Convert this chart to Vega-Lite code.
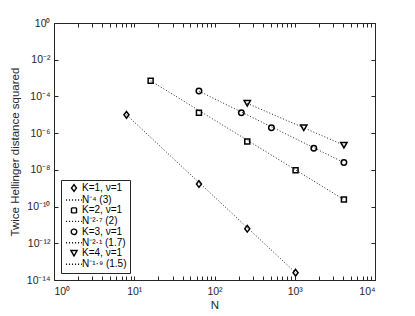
{
  "$schema": "https://vega.github.io/schema/vega-lite/v6.json",
  "width": 321,
  "height": 257,
  "autosize": "none",
  "padding": {"left": 54, "top": 23, "right": 40, "bottom": 36},
  "background": "white",
  "config": {
    "font": "Liberation Sans",
    "view": {"stroke": "#262626", "strokeWidth": 1},
    "axis": {
      "domain": false,
      "grid": false,
      "tickSize": -4,
      "tickColor": "#262626",
      "tickWidth": 1,
      "labelColor": "#262626",
      "labelFontSize": 10.5,
      "titleColor": "#262626",
      "titleFontSize": 11.5,
      "titleFontWeight": "normal"
    },
    "legend": {
      "orient": "bottom-left",
      "offset": 7,
      "title": null,
      "strokeColor": "#262626",
      "fillColor": "white",
      "padding": 3,
      "symbolOffset": 5,
      "symbolStrokeWidth": 1.4,
      "symbolStrokeColor": "black",
      "symbolFillColor": "transparent",
      "labelFontSize": 10,
      "labelColor": "black",
      "labelOffset": 3,
      "rowPadding": -0.6,
      "labelLimit": 200
    }
  },
  "datasets": {
    "pts": [
      {"N": 8, "D": 1.0e-5, "label": "K=1, ν=1"},
      {"N": 64, "D": 1.7e-9, "label": "K=1, ν=1"},
      {"N": 256, "D": 6.2e-12, "label": "K=1, ν=1"},
      {"N": 1024, "D": 2.5e-14, "label": "K=1, ν=1"},
      {"N": 16, "D": 7.1e-4, "label": "K=2, ν=1"},
      {"N": 64, "D": 1.3e-5, "label": "K=2, ν=1"},
      {"N": 256, "D": 3.5e-7, "label": "K=2, ν=1"},
      {"N": 1024, "D": 9.5e-9, "label": "K=2, ν=1"},
      {"N": 4096, "D": 2.4e-10, "label": "K=2, ν=1"},
      {"N": 64, "D": 1.95e-4, "label": "K=3, ν=1"},
      {"N": 216, "D": 1.3e-5, "label": "K=3, ν=1"},
      {"N": 512, "D": 1.95e-6, "label": "K=3, ν=1"},
      {"N": 1728, "D": 1.5e-7, "label": "K=3, ν=1"},
      {"N": 4096, "D": 2.5e-8, "label": "K=3, ν=1"},
      {"N": 256, "D": 4.2e-5, "label": "K=4, ν=1"},
      {"N": 1296, "D": 1.95e-6, "label": "K=4, ν=1"},
      {"N": 4096, "D": 2.2e-7, "label": "K=4, ν=1"}
    ],
    "fits": [
      {"N": 8, "D": 1.0e-5, "label": "N⁻⁴ (3)"},
      {"N": 1024, "D": 2.5e-14, "label": "N⁻⁴ (3)"},
      {"N": 16, "D": 7.1e-4, "label": "N⁻²·⁷ (2)"},
      {"N": 4096, "D": 2.4e-10, "label": "N⁻²·⁷ (2)"},
      {"N": 64, "D": 1.95e-4, "label": "N⁻²·¹ (1.7)"},
      {"N": 4096, "D": 2.5e-8, "label": "N⁻²·¹ (1.7)"},
      {"N": 256, "D": 4.2e-5, "label": "N⁻¹·⁹ (1.5)"},
      {"N": 4096, "D": 2.2e-7, "label": "N⁻¹·⁹ (1.5)"}
    ]
  },
  "layer": [
    {
      "data": {"name": "fits"},
      "mark": {"type": "line", "color": "#222", "strokeWidth": 1},
      "encoding": {
        "x": {"field": "N", "type": "quantitative", "scale": {"type": "log", "domain": [1, 10000], "nice": false}, "axis": null},
        "y": {"field": "D", "type": "quantitative", "scale": {"type": "log", "domain": [1e-14, 1], "nice": false}, "axis": null},
        "strokeDash": {
          "field": "label",
          "type": "nominal",
          "scale": {
            "domain": ["K=1, ν=1", "N⁻⁴ (3)", "K=2, ν=1", "N⁻²·⁷ (2)", "K=3, ν=1", "N⁻²·¹ (1.7)", "K=4, ν=1", "N⁻¹·⁹ (1.5)"],
            "range": [[1, 0], [1, 2], [1, 0], [1, 2], [1, 0], [1, 2], [1, 0], [1, 2]]
          },
          "legend": {}
        }
      }
    },
    {
      "data": {"name": "pts"},
      "mark": {"type": "point", "filled": false, "stroke": "black", "strokeWidth": 1.5, "opacity": 1},
      "encoding": {
        "x": {
          "field": "N", "type": "quantitative",
          "axis": {
            "orient": "bottom",
            "title": "N",
            "titlePadding": 3,
            "labelPadding": 10,
            "values": [1,2,3,4,5,6,7,8,9,10,20,30,40,50,60,70,80,90,100,200,300,400,500,600,700,800,900,1000,2000,3000,4000,5000,6000,7000,8000,9000,10000],
            "labelExpr": "abs(log(datum.value)/LN10 - round(log(datum.value)/LN10)) < 1e-6 ? '10' + ['⁰','¹','²','³','⁴'][round(log(datum.value)/LN10)] : ''"
          }
        },
        "y": {
          "field": "D", "type": "quantitative",
          "axis": {
            "orient": "left",
            "title": "Twice Hellinger distance squared",
            "titlePadding": 6,
            "labelPadding": 8,
            "values": [1e-14, 1e-12, 1e-10, 1e-8, 1e-6, 1e-4, 1e-2, 1],
            "labelExpr": "'10' + (round(log(datum.value)/LN10) < 0 ? '⁻' : '') + (abs(round(log(datum.value)/LN10)) >= 10 ? '¹' : '') + ['⁰','¹','²','³','⁴','⁵','⁶','⁷','⁸','⁹'][abs(round(log(datum.value)/LN10)) % 10]"
          }
        },
        "shape": {
          "field": "label",
          "type": "nominal",
          "scale": {
            "domain": ["K=1, ν=1", "N⁻⁴ (3)", "K=2, ν=1", "N⁻²·⁷ (2)", "K=3, ν=1", "N⁻²·¹ (1.7)", "K=4, ν=1", "N⁻¹·⁹ (1.5)"],
            "range": ["M0,-1L0.75,0L0,1L-0.75,0Z", "M-2.5,0L2.5,0", "square", "M-2.5,0L2.5,0", "circle", "M-2.5,0L2.5,0", "triangle-down", "M-2.5,0L2.5,0"]
          },
          "legend": {}
        },
        "size": {
          "field": "label",
          "type": "nominal",
          "scale": {
            "type": "ordinal",
            "domain": ["K=1, ν=1", "N⁻⁴ (3)", "K=2, ν=1", "N⁻²·⁷ (2)", "K=3, ν=1", "N⁻²·¹ (1.7)", "K=4, ν=1", "N⁻¹·⁹ (1.5)"],
            "range": [45, 40, 25, 40, 30, 40, 40, 40]
          },
          "legend": {}
        }
      }
    },
    {
      "data": {"name": "pts"},
      "mark": {"type": "point", "opacity": 0},
      "encoding": {
        "x": {
          "field": "N", "type": "quantitative",
          "axis": {
            "orient": "top",
            "title": null,
            "labels": false,
            "values": [1,2,3,4,5,6,7,8,9,10,20,30,40,50,60,70,80,90,100,200,300,400,500,600,700,800,900,1000,2000,3000,4000,5000,6000,7000,8000,9000,10000]
          }
        },
        "y": {
          "field": "D", "type": "quantitative",
          "axis": {
            "orient": "right",
            "title": null,
            "labels": false,
            "values": [1e-14, 1e-12, 1e-10, 1e-8, 1e-6, 1e-4, 1e-2, 1]
          }
        }
      }
    }
  ],
  "resolve": {"axis": {"x": "independent", "y": "independent"}}
}
